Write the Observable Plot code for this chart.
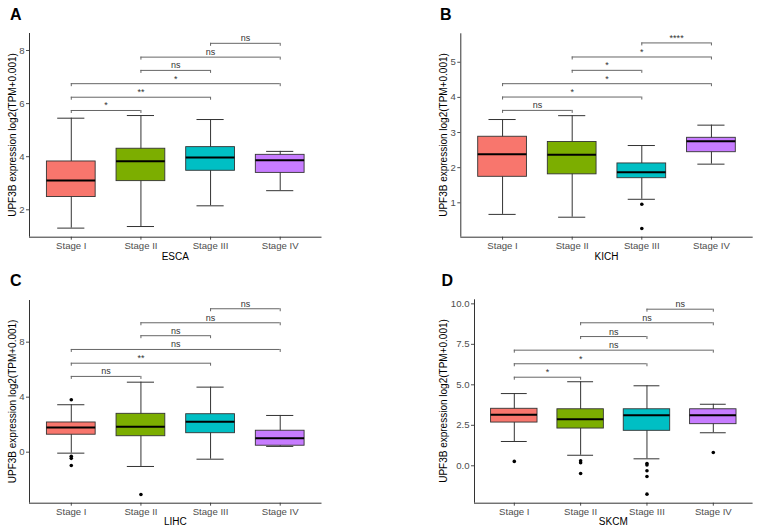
<!DOCTYPE html>
<html>
<head>
<meta charset="utf-8">
<script src="https://cdn.jsdelivr.net/npm/d3@7"></script>
<script src="https://cdn.jsdelivr.net/npm/@observablehq/plot@0.6"></script>
<style>
  body { margin: 0; background: #fff; }
  #root { position: relative; width: 758px; height: 530px; background: #fff; font-family: "Liberation Sans", Arial, sans-serif; }
  .panel { position: absolute; }
  #overlay { position: absolute; left: 0; top: 0; pointer-events: none; }
</style>
</head>
<body>
<div id="root"></div>
<script>
// ---------- data ----------
const stages = ["Stage I", "Stage II", "Stage III", "Stage IV"];
const stageColors = ["#F8766D", "#7CAE00", "#00BFC4", "#C77CFF"];

// box stats per stage: [lower whisker, Q1, median, Q3, upper whisker]
const escaBox = [[1.31, 2.48, 3.10, 3.82, 5.45], [1.37, 3.08, 3.83, 4.30, 5.55], [2.15, 3.47, 3.97, 4.36, 5.40], [2.72, 3.39, 3.87, 4.07, 4.20]];
const kichBox = [[0.67, 1.74, 2.38, 2.88, 3.37], [0.59, 1.81, 2.37, 2.73, 3.48], [1.10, 1.70, 1.87, 2.12, 2.63], [2.10, 2.44, 2.75, 2.85, 3.21]];
const lihcBox = [[-0.07, 1.27, 1.80, 2.16, 3.45], [-1.04, 1.16, 1.85, 2.79, 5.09], [-0.51, 1.38, 2.21, 2.76, 4.73], [0.42, 0.47, 1.02, 1.56, 2.67]];
const skcmBox = [[1.50, 2.67, 3.15, 3.52, 4.46], [0.65, 2.30, 2.88, 3.49, 5.19], [0.43, 2.16, 3.12, 3.49, 4.94], [2.04, 2.57, 3.12, 3.49, 3.80]];

// outliers: [stage index (1-based), value]
const escaOut = [];
const kichOut = [[3, 0.96], [3, 0.27]];
const lihcOut = [[1, 3.81], [1, -0.30], [1, -0.45], [1, -0.97], [2, -3.08]];
const skcmOut = [[1, 0.27], [2, 0.31], [2, 0.19], [2, -0.48], [3, 0.14], [3, 0.05], [3, -0.31], [3, -0.66], [3, -1.75], [4, 0.82]];

// comparisons: [stage a, stage b, label, bracket height]
const escaCmp = [[1, 2, "*", 5.74], [1, 3, "**", 6.24], [1, 4, "*", 6.75], [2, 3, "ns", 7.25], [2, 4, "ns", 7.75], [3, 4, "ns", 8.27]];
const kichCmp = [[1, 2, "ns", 3.63], [1, 3, "*", 4.01], [1, 4, "*", 4.39], [2, 3, "*", 4.77], [2, 4, "*", 5.15], [3, 4, "****", 5.55]];
const lihcCmp = [[1, 2, "ns", 5.51], [1, 3, "**", 6.47], [1, 4, "ns", 7.47], [2, 3, "ns", 8.47], [2, 4, "ns", 9.41], [3, 4, "ns", 10.43]];
const skcmCmp = [[1, 2, "*", 5.47], [1, 3, "*", 6.30], [1, 4, "ns", 7.14], [2, 3, "ns", 7.98], [2, 4, "ns", 8.83], [3, 4, "ns", 9.67]];

const escaTicks = [2, 4, 6, 8];
const kichTicks = [1, 2, 3, 4, 5];
const lihcTicks = [0, 4, 8];
const skcmTicks = [0, 2.5, 5, 7.5, 10];

const yTitle = "UPF3B expression log2(TPM+0.001)";

// ---------- drawing ----------
const root = document.getElementById("root");
const FONT = "'Liberation Sans', Arial, Helvetica, sans-serif";

function panel(cfg) {
  const {box, outs, cmp, ticks, fmt, yDomain, left, top, w, h, m} = cfg;
  const boxes = box.map((b, i) => ({x: i + 1, stage: stages[i], lo: b[0], q1: b[1], med: b[2], q3: b[3], hi: b[4]}));
  const outliers = outs.map(([s, v]) => ({x: s, v}));
  const brackets = cmp.map(([a, b, label, y]) => ({a, b, label, y}));
  const plotH = h - m[0] - m[2];
  const tip = 3 * (yDomain[1] - yDomain[0]) / plotH;
  const tips = brackets.flatMap(d => [{x: d.a, y: d.y}, {x: d.b, y: d.y}]);
  const boxHalf = 0.35, capHalf = 0.195;

  const svg = Plot.plot({
    width: w, height: h,
    marginTop: m[0], marginRight: m[1], marginBottom: m[2], marginLeft: m[3],
    style: {fontFamily: FONT, fontSize: "9.6px", color: "#4d4d4d", background: "transparent", overflow: "visible"},
    x: {domain: [0.4, 4.6], ticks: [1, 2, 3, 4], tickFormat: i => stages[i - 1], tickSize: 3, tickPadding: 2, label: null},
    y: {domain: yDomain, ticks, tickFormat: fmt, tickSize: 3, tickPadding: 2, label: null},
    color: {type: "ordinal", domain: stages, range: stageColors},
    marks: [
      Plot.ruleY([yDomain[0]], {stroke: "#333", strokeWidth: 1}),
      Plot.ruleX([0.4], {stroke: "#333", strokeWidth: 1}),
      // whiskers
      Plot.ruleX(boxes, {x: "x", y1: "lo", y2: "hi", stroke: "#333", strokeWidth: 1}),
      Plot.ruleY(boxes, {y: "lo", x1: d => d.x - capHalf, x2: d => d.x + capHalf, stroke: "#333", strokeWidth: 1}),
      Plot.ruleY(boxes, {y: "hi", x1: d => d.x - capHalf, x2: d => d.x + capHalf, stroke: "#333", strokeWidth: 1}),
      // boxes
      Plot.rect(boxes, {x1: d => d.x - boxHalf, x2: d => d.x + boxHalf, y1: "q1", y2: "q3", fill: "stage", stroke: "#333", strokeWidth: 0.9}),
      Plot.ruleY(boxes, {y: "med", x1: d => d.x - boxHalf, x2: d => d.x + boxHalf, stroke: "#000", strokeWidth: 2}),
      // outliers
      Plot.dot(outliers, {x: "x", y: "v", r: 1.8, fill: "#000", stroke: null}),
      // brackets
      Plot.ruleY(brackets, {y: "y", x1: "a", x2: "b", stroke: "#666", strokeWidth: 1}),
      Plot.ruleX(tips, {x: "x", y1: "y", y2: d => d.y - tip, stroke: "#666", strokeWidth: 1}),
      Plot.text(brackets, {x: d => (d.a + d.b) / 2, y: "y", text: "label", dy: -2, lineAnchor: "bottom", fontSize: 9, fill: "#333"})
    ]
  });
  const div = document.createElement("div");
  div.className = "panel";
  div.style.left = left + "px";
  div.style.top = top + "px";
  div.appendChild(svg);
  root.appendChild(div);
}

panel({box: escaBox, outs: escaOut, cmp: escaCmp, ticks: escaTicks, fmt: d3.format("d"), yDomain: [0.968, 8.64],
  left: 0, top: 0, w: 379, h: 265, m: [33, 57.5, 28.3, 29]});
panel({box: kichBox, outs: kichOut, cmp: kichCmp, ticks: kichTicks, fmt: d3.format("d"), yDomain: [0.021, 5.81],
  left: 379, top: 0, w: 379, h: 265, m: [33.3, 5.3, 28.3, 81.3]});
panel({box: lihcBox, outs: lihcOut, cmp: lihcCmp, ticks: lihcTicks, fmt: d3.format("d"), yDomain: [-3.71, 11.03],
  left: 0, top: 265, w: 379, h: 265, m: [35, 57.5, 27.3, 29]});
panel({box: skcmBox, outs: skcmOut, cmp: skcmCmp, ticks: skcmTicks, fmt: d3.format(".1f"), yDomain: [-2.31, 10.25],
  left: 379, top: 265, w: 379, h: 265, m: [34.3, 5.4, 27.3, 95]});

// titles, axis titles and panel letters
const overlay = d3.select(root).append("svg").attr("id", "overlay")
  .attr("width", 758).attr("height", 530)
  .style("font-family", FONT);

const letters = [["A", 10, 20], ["B", 440, 20], ["C", 10, 285.5], ["D", 441.5, 285.5]];
overlay.selectAll("text.letter").data(letters).join("text")
  .attr("class", "letter")
  .attr("x", d => d[1]).attr("y", d => d[2])
  .attr("font-size", 16).attr("font-weight", "bold").attr("fill", "#000")
  .text(d => d[0]);

const yTitles = [[12.5, 135], [443, 135], [12.5, 401.4], [443, 401]];
overlay.selectAll("text.ytitle").data(yTitles).join("text")
  .attr("class", "ytitle")
  .attr("transform", d => `translate(${d[0]},${d[1]}) rotate(-90)`)
  .attr("text-anchor", "middle").attr("dy", "0.35em")
  .attr("font-size", 10).attr("fill", "#000")
  .text(yTitle);

const xTitles = [["ESCA", 175.3, 256], ["KICH", 606.5, 256], ["LIHC", 175.3, 521.7], ["SKCM", 613.3, 521.7]];
overlay.selectAll("text.xtitle").data(xTitles).join("text")
  .attr("class", "xtitle")
  .attr("x", d => d[1]).attr("y", d => d[2])
  .attr("text-anchor", "middle").attr("dy", "0.35em")
  .attr("font-size", 10).attr("fill", "#000")
  .text(d => d[0]);
</script>
</body>
</html>
